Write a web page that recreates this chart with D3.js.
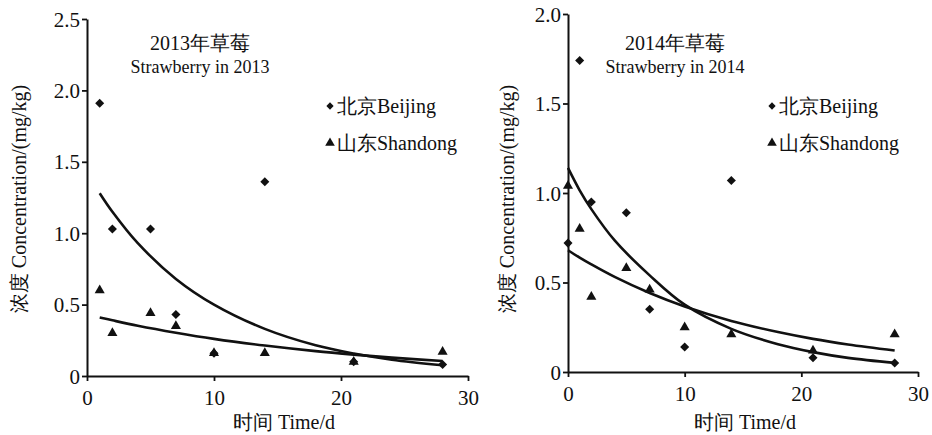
<!DOCTYPE html>
<html>
<head>
<meta charset="utf-8">
<script src="https://cdn.jsdelivr.net/npm/d3@7"></script>
<style>
  body { margin: 0; background: #fff; }
  svg text { font-family: "Liberation Serif", serif; fill: #111; }
</style>
</head>
<body>
<svg id="chart" width="932" height="435"></svg>
<script>
// sampling days and measured residues (mg/kg)
const days2013 = [1, 2, 5, 7, 10, 14, 21, 28];
const beijing2013 = [1.91, 1.03, 1.03, 0.43, 0.16, 1.36, 0.10, 0.08];
const shandong2013 = [0.60, 0.30, 0.44, 0.35, 0.16, 0.16, 0.10, 0.17];

const days2014 = [0, 1, 2, 5, 7, 10, 14, 21, 28];
const beijing2014 = [0.72, 1.74, 0.95, 0.89, 0.35, 0.14, 1.07, 0.08, 0.05];
const shandong2014 = [1.04, 0.80, 0.42, 0.58, 0.46, 0.25, 0.21, 0.12, 0.21];

// fitted decay curves
const fitDays2013 = [1, 2, 4, 7, 10, 14, 18, 21, 24, 28];
const fitBeijing2013 = [1.28, 1.15, 0.93, 0.68, 0.50, 0.33, 0.215, 0.157, 0.114, 0.075];
const fitShandong2013 = [0.41, 0.39, 0.352, 0.303, 0.26, 0.213, 0.174, 0.15, 0.129, 0.105];

const fitDays2014 = [0, 1, 2, 4, 7, 10, 14, 18, 21, 24, 28];
const fitBeijing2014 = [1.14, 1.015, 0.91, 0.735, 0.54, 0.376, 0.241, 0.155, 0.111, 0.079, 0.051];
const fitShandong2014 = [0.68, 0.639, 0.601, 0.531, 0.441, 0.366, 0.285, 0.223, 0.185, 0.154, 0.12];

// axis ticks and labels
const xTicks = [0, 10, 20, 30];
const yTicks2013 = [0, 0.5, 1.0, 1.5, 2.0, 2.5];
const yTicks2014 = [0, 0.5, 1.0, 1.5, 2.0];
const titles2013 = ["2013年草莓", "Strawberry in 2013"];
const titles2014 = ["2014年草莓", "Strawberry in 2014"];
const legendLabels = ["北京Beijing", "山东Shandong"];
const xLabel = "时间 Time/d";
const yLabel = "浓度 Concentration/(mg/kg)";

const svg = d3.select("#chart");

function drawPanel(opts) {
    const x = d3.scaleLinear().domain([0, 30]).range([opts.left, opts.right]);
    const y = d3.scaleLinear().domain([0, opts.yMax]).range([opts.bottom, opts.top]);
    const g = svg.append("g");

    const yFmt = d => d === 0 ? "0" : d3.format(".1f")(d);

    const yAxis = g.append("g").attr("transform", "translate(" + opts.left + ",0)")
        .call(d3.axisLeft(y).tickValues(opts.yTicks).tickFormat(yFmt).tickSize(5).tickSizeOuter(0).tickPadding(2));
    const xAxis = g.append("g").attr("transform", "translate(0," + opts.bottom + ")")
        .call(d3.axisBottom(x).tickValues(xTicks).tickFormat(d3.format("d")).tickSize(5).tickSizeOuter(0).tickPadding(4));
    [xAxis, yAxis].forEach(a => {
        a.attr("font-family", null);
        a.select(".domain").attr("stroke", "#111").attr("stroke-width", 2);
        a.selectAll(".tick line").attr("stroke", "#111").attr("stroke-width", 1.8);
        a.selectAll(".tick text").style("font-size", "21px").attr("fill", "#111");
    });
    xAxis.selectAll(".tick text").attr("dy", "0.95em");
    yAxis.selectAll(".tick text").attr("dy", "0.34em");

    // fitted curves
    const line = d3.line().x(d => x(d[0])).y(d => y(d[1])).curve(d3.curveCatmullRom);
    [opts.fitB, opts.fitS].forEach(vals => {
        g.append("path")
            .datum(opts.fitDays.map((d, i) => [d, vals[i]]))
            .attr("fill", "none").attr("stroke", "#111").attr("stroke-width", 2.6)
            .attr("d", line);
    });

    // measured points
    const diamond = d3.symbol().type(d3.symbolDiamond2).size(52);
    const triangle = d3.symbol().type(d3.symbolTriangle).size(44);
    g.selectAll(".sd").data(opts.days.map((d, i) => [d, opts.shandong[i]])).enter()
        .append("path").attr("d", triangle).attr("fill", "#111")
        .attr("transform", d => "translate(" + x(d[0]) + "," + y(d[1]) + ")");
    g.selectAll(".bj").data(opts.days.map((d, i) => [d, opts.beijing[i]])).enter()
        .append("path").attr("d", diamond).attr("fill", "#111")
        .attr("transform", d => "translate(" + x(d[0]) + "," + y(d[1]) + ")");

    // title
    g.append("text").attr("x", opts.titleX).attr("y", 50).attr("text-anchor", "middle")
        .style("font-size", "20px").text(opts.titles[0]);
    g.append("text").attr("x", opts.titleX).attr("y", 73).attr("text-anchor", "middle")
        .style("font-size", "18px").text(opts.titles[1]);

    // legend
    const legend = g.append("g").attr("transform", "translate(" + opts.legendX + ",0)");
    legend.append("path").attr("d", d3.symbol().type(d3.symbolDiamond2).size(34)).attr("fill", "#111")
        .attr("transform", "translate(0,106)");
    legend.append("path").attr("d", d3.symbol().type(d3.symbolTriangle).size(40)).attr("fill", "#111")
        .attr("transform", "translate(0,143)");
    legend.selectAll(".lg").data(legendLabels).enter().append("text")
        .attr("x", 7).attr("y", (d, i) => 113 + i * 37)
        .style("font-size", "20px").text(d => d);

    // axis titles
    g.append("text").attr("x", opts.xLabelX).attr("y", 429).attr("text-anchor", "middle")
        .style("font-size", "20px").text(xLabel);
    g.append("text").attr("transform", "translate(" + opts.yLabelX + ",199) rotate(-90)")
        .attr("text-anchor", "middle").attr("dy", "0.35em")
        .style("font-size", "20px").text(yLabel);
}

drawPanel({
    left: 87, right: 468, top: 19, bottom: 376, yMax: 2.5, yTicks: yTicks2013,
    days: days2013, beijing: beijing2013, shandong: shandong2013,
    fitDays: fitDays2013, fitB: fitBeijing2013, fitS: fitShandong2013,
    titles: titles2013, titleX: 200, legendX: 330, xLabelX: 284, yLabelX: 19
});
drawPanel({
    left: 568, right: 918, top: 14, bottom: 372, yMax: 2.0, yTicks: yTicks2014,
    days: days2014, beijing: beijing2014, shandong: shandong2014,
    fitDays: fitDays2014, fitB: fitBeijing2014, fitS: fitShandong2014,
    titles: titles2014, titleX: 675, legendX: 772, xLabelX: 745, yLabelX: 507
});
</script>
</body>
</html>
